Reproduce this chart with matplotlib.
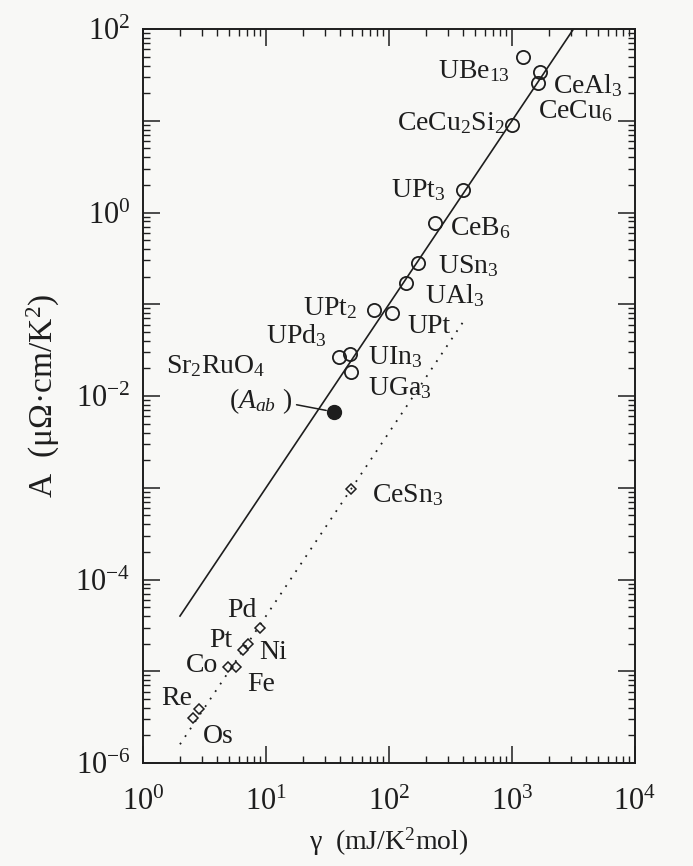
import numpy as np
import matplotlib
matplotlib.use("Agg")
import matplotlib.pyplot as plt
from matplotlib.ticker import LogLocator, FuncFormatter, NullFormatter

# ---- data (gamma in mJ/K^2 mol, A in muOhm cm/K^2) ----
circ_names = ["UBe$_{13}$", "CeAl$_3$", "CeCu$_6$", "CeCu$_2$Si$_2$", "UPt$_3$",
              "CeB$_6$", "USn$_3$", "UAl$_3$", "UPt$_2$", "UPt", "UPd$_3$",
              "UIn$_3$", "UGa$_3$"]
circ_gamma = [1230, 1690, 1620, 1000, 400, 236, 172, 138, 76, 106, 39, 48, 49]
circ_A = [49.5, 34, 26, 9.0, 1.76, 0.77, 0.28, 0.17, 0.0865, 0.080, 0.0266, 0.029, 0.0183]

dia_names = ["CeSn$_3$", "Pd", "Pt", "Ni", "Co", "Fe", "Re", "Os"]
dia_gamma = [49, 8.9, 6.5, 7.1, 4.9, 5.7, 2.85, 2.55]
dia_A = [9.8e-4, 2.95e-5, 1.7e-5, 1.96e-5, 1.1e-5, 1.1e-5, 3.9e-6, 3.1e-6]

sr_gamma = [36]
sr_A = [0.0067]

# Kadowaki-Woods lines A/gamma^2
kw_ratio_solid = 1.0e-5
kw_ratio_dotted = 4.0e-7
solid_range = [2.0, 3162]
dotted_range = [2.0, 420]

# label offsets (pixels) and alignment
circ_off = [(-13, -21, 'right'), (13, -21, 'left'), (0, -35, 'left'), (-7, -5, 'right'),
            (-18, -7, 'right'), (15, -12, 'left'), (20, -10, 'left'), (19, -20, 'left'),
            (-17, -5, 'right'), (15, -20, 'left'), (-12, 14, 'right'), (18, -11, 'left'),
            (17, -23, 'left')]
dia_off = [(21, -14, 'left'), (-3, 11, 'right'), (-11, 3, 'right'), (12, -15, 'left'),
           (-10, -5, 'right'), (11, -24, 'left'), (-7, 4, 'right'), (10, -25, 'left')]

plt.rcParams['font.family'] = ['Liberation Serif', 'DejaVu Serif']
plt.rcParams['mathtext.fontset'] = 'custom'
plt.rcParams['mathtext.rm'] = 'Liberation Serif'
plt.rcParams['mathtext.it'] = 'Liberation Serif:italic'
plt.rcParams['mathtext.bf'] = 'Liberation Serif:bold'

ink = '#1e1e1e'
bg = '#f8f8f6'

fig = plt.figure(figsize=(6.93, 8.66), dpi=100, facecolor=bg)
ax = fig.add_axes([0.2063, 0.1189, 0.7100, 0.8476])
ax.set_facecolor(bg)
ax.set_xscale('log')
ax.set_yscale('log')
ax.set_xlim(1, 1e4)
ax.set_ylim(1e-6, 1e2)

# lines
g = np.logspace(np.log10(solid_range[0]), np.log10(solid_range[1]), 200)
ax.plot(g, kw_ratio_solid * g**2, color=ink, lw=1.2, zorder=2)
g2 = np.logspace(np.log10(dotted_range[0]), np.log10(dotted_range[1]), 200)
ax.plot(g2, kw_ratio_dotted * g2**2, color=ink, lw=1.3, ls=(0, (1, 4)), zorder=2)

ax.plot(circ_gamma, circ_A, 'o', ms=9.5, mfc='none', mec=ink, mew=1.3, zorder=3)
ax.plot(dia_gamma, dia_A, 'D', ms=5, mfc='none', mec=ink, mew=1.1, zorder=3)
ax.plot(sr_gamma, sr_A, 'o', ms=10, mfc=ink, mec=ink, zorder=3)

fs = 20
for n, x, y, (dx, dy, ha) in zip(circ_names, circ_gamma, circ_A, circ_off):
    ax.annotate(n, (x, y), xytext=(dx, dy), textcoords='offset pixels',
                ha=ha, va='baseline', fontsize=fs, color=ink)
for n, x, y, (dx, dy, ha) in zip(dia_names, dia_gamma, dia_A, dia_off):
    ax.annotate(n, (x, y), xytext=(dx, dy), textcoords='offset pixels',
                ha=ha, va='baseline', fontsize=fs, color=ink)

ax.annotate("Sr$_2$RuO$_4$", (sr_gamma[0], sr_A[0]), xytext=(-168, 39),
            textcoords='offset pixels', ha='left', va='baseline', fontsize=fs, color=ink)
ax.annotate(r"($A_{ab}$ )", (sr_gamma[0], sr_A[0]), xytext=(-42, 4),
            textcoords='offset pixels', ha='right', va='baseline', fontsize=fs, color=ink,
            arrowprops=dict(arrowstyle='-', color=ink, lw=1.1, shrinkA=1, shrinkB=6,
                            relpos=(1.0, 0.4)))

# ticks
ax.xaxis.set_major_locator(LogLocator(base=10, numticks=10))
ax.xaxis.set_minor_locator(LogLocator(base=10, subs=np.arange(2, 10), numticks=20))
ax.yaxis.set_major_locator(LogLocator(base=10, numticks=20))
ax.yaxis.set_minor_locator(LogLocator(base=10, subs=np.arange(2, 10), numticks=40))
ax.xaxis.set_minor_formatter(NullFormatter())
ax.yaxis.set_minor_formatter(NullFormatter())

def xfmt(v, p):
    e = int(round(np.log10(v)))
    return r'$10^{%d}$' % e

def yfmt(v, p):
    e = int(round(np.log10(v)))
    return r'$10^{%d}$' % e if e % 2 == 0 else ''

ax.xaxis.set_major_formatter(FuncFormatter(xfmt))
ax.yaxis.set_major_formatter(FuncFormatter(yfmt))
ax.tick_params(which='both', direction='in', top=True, right=True, colors=ink)
ax.tick_params(which='major', length=12, width=1.1, labelsize=22)
ax.tick_params(which='minor', length=5, width=1.0)
ax.tick_params(axis='x', which='major', pad=18)
ax.tick_params(axis='y', which='major', pad=9)
for s in ax.spines.values():
    s.set_color(ink)
    s.set_linewidth(1.4)

ax.set_xlabel("γ  (mJ/K$^2$mol)", fontsize=20, color=ink, labelpad=6)
ax.set_ylabel("A  (μΩ·cm/K$^2$)", fontsize=24, color=ink, labelpad=10)

fig.savefig("out.png", dpi=100, facecolor=bg)
